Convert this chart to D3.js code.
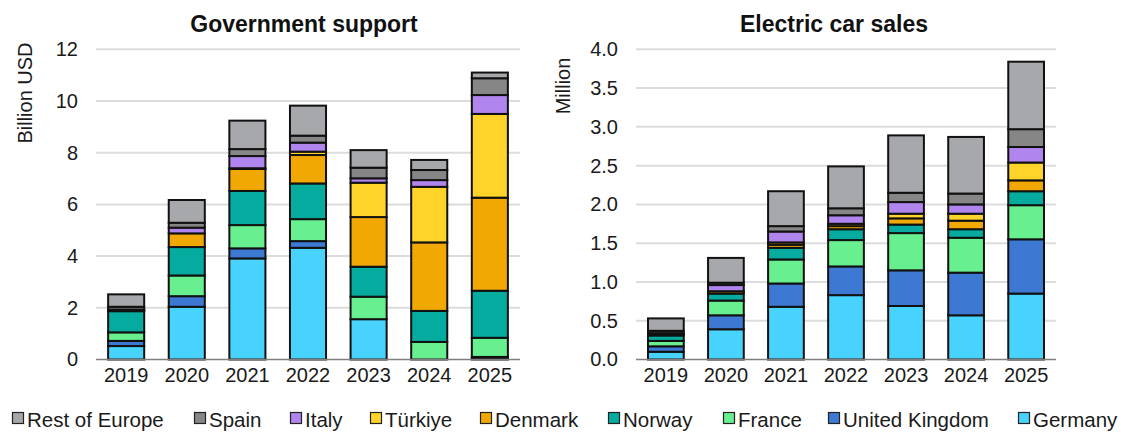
<!DOCTYPE html>
<html>
<head>
<meta charset="utf-8">
<script src="https://cdn.jsdelivr.net/npm/d3@7"></script>
<style>
  html, body { margin: 0; padding: 0; background: #fff; overflow: hidden; }
  svg { display: block; font-family: "Liberation Sans", Arial, sans-serif; }
</style>
</head>
<body>
<svg id="chart" width="1121" height="432"></svg>
<script>
// ---------- DATA ----------
const years = ["2019", "2020", "2021", "2022", "2023", "2024", "2025"];
// stacking order, bottom -> top
const countries = ["Germany", "United Kingdom", "France", "Norway", "Denmark", "Türkiye", "Italy", "Spain", "Rest of Europe"];

// Government support, billion USD (per country, per year)
const supportGermany = [0.52, 2.04, 3.91, 4.32, 1.56, 0.00, 0.02];
const supportUK      = [0.20, 0.41, 0.39, 0.26, 0.00, 0.00, 0.08];
const supportFrance  = [0.33, 0.80, 0.90, 0.85, 0.87, 0.68, 0.74];
const supportNorway  = [0.82, 1.10, 1.32, 1.38, 1.16, 1.20, 1.82];
const supportDenmark = [0.03, 0.53, 0.85, 1.10, 1.92, 2.65, 3.60];
const supportTurkiye = [0.00, 0.00, 0.03, 0.13, 1.33, 2.15, 3.24];
const supportItaly   = [0.03, 0.22, 0.47, 0.35, 0.17, 0.26, 0.73];
const supportSpain   = [0.11, 0.19, 0.27, 0.27, 0.41, 0.39, 0.65];
const supportRest    = [0.48, 0.88, 1.10, 1.16, 0.68, 0.39, 0.22];

// Electric car sales, million
const salesGermany = [0.10, 0.39, 0.68, 0.83, 0.69, 0.57, 0.85];
const salesUK      = [0.07, 0.18, 0.30, 0.37, 0.46, 0.55, 0.70];
const salesFrance  = [0.07, 0.19, 0.31, 0.34, 0.48, 0.45, 0.44];
const salesNorway  = [0.07, 0.09, 0.15, 0.14, 0.11, 0.11, 0.18];
const salesDenmark = [0.01, 0.03, 0.04, 0.04, 0.08, 0.11, 0.14];
const salesTurkiye = [0.00, 0.00, 0.03, 0.03, 0.06, 0.09, 0.23];
const salesItaly   = [0.02, 0.08, 0.14, 0.11, 0.15, 0.12, 0.20];
const salesSpain   = [0.03, 0.03, 0.07, 0.09, 0.12, 0.14, 0.23];
const salesRest    = [0.16, 0.32, 0.45, 0.54, 0.74, 0.73, 0.87];

const supportTicks = [0, 2, 4, 6, 8, 10, 12];
const salesTicks = [0, 0.5, 1.0, 1.5, 2.0, 2.5, 3.0, 3.5, 4.0];

const colors = {
  "Germany": "#48D3FE",
  "United Kingdom": "#3D78D3",
  "France": "#68F090",
  "Norway": "#06AB9F",
  "Denmark": "#F1A803",
  "Türkiye": "#FED32A",
  "Italy": "#B185EE",
  "Spain": "#868686",
  "Rest of Europe": "#A7A8AC"
};

function buildRows(seriesArrays) {
  return years.map((y, i) => {
    const row = { year: y };
    countries.forEach((c, k) => { row[c] = seriesArrays[k][i]; });
    return row;
  });
}

const supportRows = buildRows([supportGermany, supportUK, supportFrance, supportNorway, supportDenmark, supportTurkiye, supportItaly, supportSpain, supportRest]);
const salesRows = buildRows([salesGermany, salesUK, salesFrance, salesNorway, salesDenmark, salesTurkiye, salesItaly, salesSpain, salesRest]);

// ---------- DRAW ----------
const svg = d3.select("#chart");

function drawPanel(opts) {
  const { rows, ticks, yMax, x0, x1, title, titleX, yLabel, yLabelX, yLabelY, fmt } = opts;
  const yTop = 49.3, yBottom = 359.5;
  const x = d3.scaleBand().domain(years).range([x0, x1]).paddingInner(0.405).paddingOuter(0.2);
  const y = d3.scaleLinear().domain([0, yMax]).range([yBottom, yTop]);
  const g = svg.append("g");

  // gridlines
  g.selectAll("line.grid").data(ticks.filter(t => t !== 0)).join("line")
    .attr("x1", x0).attr("x2", x1)
    .attr("y1", d => y(d)).attr("y2", d => y(d))
    .attr("stroke", "#DCDCDC").attr("stroke-width", 2);

  // y axis labels
  const yAxis = d3.axisLeft(y).tickValues(ticks).tickFormat(fmt).tickSize(0).tickPadding(18);
  const ya = g.append("g").attr("transform", `translate(${x0},0)`).call(yAxis);
  ya.select(".domain").remove();
  ya.selectAll("text").attr("font-size", 20).attr("fill", "#1a1a1a")
    .attr("font-family", "'Liberation Sans', Arial, sans-serif");

  // stacked bars
  const stack = d3.stack().keys(countries)(rows);
  g.selectAll("g.layer").data(stack).join("g")
    .attr("fill", d => colors[d.key])
    .selectAll("rect").data(d => d).join("rect")
    .attr("x", d => x(d.data.year))
    .attr("width", x.bandwidth())
    .attr("y", d => y(d[1]))
    .attr("height", d => Math.max(0, y(d[0]) - y(d[1])))
    .attr("stroke", "#111").attr("stroke-width", 2);

  // x axis
  const xAxis = d3.axisBottom(x).tickSize(0).tickPadding(8);
  const xa = g.append("g").attr("transform", `translate(0,${yBottom})`).call(xAxis);
  xa.select(".domain").attr("stroke", "#7F7F7F").attr("stroke-width", 1.6)
    .attr("d", `M${x0},0H${x1}`);
  xa.selectAll("text").attr("font-size", 20).attr("fill", "#1a1a1a")
    .attr("font-family", "'Liberation Sans', Arial, sans-serif");

  // title
  svg.append("text").attr("x", titleX).attr("y", 32).attr("text-anchor", "middle")
    .attr("font-size", 23).attr("font-weight", "bold").attr("fill", "#111")
    .text(title);

  // y label
  svg.append("text")
    .attr("transform", `translate(${yLabelX},${yLabelY}) rotate(-90)`)
    .attr("text-anchor", "middle").attr("font-size", 20).attr("fill", "#1a1a1a")
    .text(yLabel);
}

drawPanel({
  rows: supportRows, ticks: supportTicks, yMax: 12, x0: 96, x1: 520,
  title: "Government support", titleX: 304,
  yLabel: "Billion USD", yLabelX: 32, yLabelY: 93, fmt: d3.format("d")
});
drawPanel({
  rows: salesRows, ticks: salesTicks, yMax: 4, x0: 636, x1: 1056,
  title: "Electric car sales", titleX: 834,
  yLabel: "Million", yLabelX: 570, yLabelY: 86, fmt: d3.format(".1f")
});

// ---------- LEGEND ----------
const legendOrder = countries.slice().reverse();
const legendX = [12, 194, 290, 370, 480, 608, 723, 828, 1018];
const lg = svg.append("g");
const items = lg.selectAll("g").data(legendOrder).join("g")
  .attr("transform", (d, i) => `translate(${legendX[i]},412)`);
items.append("rect").attr("x", 0.5).attr("y", 0.5).attr("width", 11).attr("height", 11)
  .attr("fill", d => colors[d]).attr("stroke", "#222").attr("stroke-width", 1.2);
items.append("text").attr("x", 15).attr("y", 15).attr("font-size", 20.5).attr("fill", "#1a1a1a")
  .text(d => d);
</script>
</body>
</html>
